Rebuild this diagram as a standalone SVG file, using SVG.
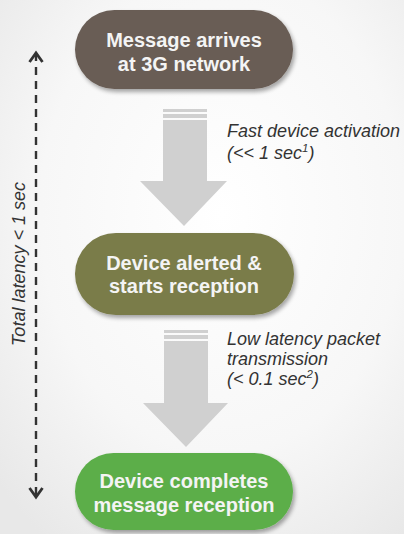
<svg xmlns="http://www.w3.org/2000/svg" width="404" height="534" viewBox="0 0 404 534">
<defs>
<radialGradient id="bg" cx="0.55" cy="0.4" r="0.75">
<stop offset="0" stop-color="#ffffff"/>
<stop offset="0.6" stop-color="#f7f7f7"/>
<stop offset="1" stop-color="#e8e8e8"/>
</radialGradient>
<filter id="sh" x="-10%" y="-10%" width="125%" height="135%">
<feGaussianBlur in="SourceAlpha" stdDeviation="2"/>
<feOffset dx="2" dy="3" result="b"/>
<feComponentTransfer><feFuncA type="linear" slope="0.35"/></feComponentTransfer>
<feMerge><feMergeNode/><feMergeNode in="SourceGraphic"/></feMerge>
</filter>
<marker id="chev" viewBox="0 0 14 16" refX="11" refY="8" markerWidth="14" markerHeight="16" markerUnits="userSpaceOnUse" orient="auto-start-reverse">
<path d="M2,1.5 L11,8 L2,14.5" fill="none" stroke="#333" stroke-width="2.8"/>
</marker>
</defs>
<style>
.node text{font-family:"Liberation Sans",Arial,sans-serif;font-weight:bold;font-size:20px;fill:#f4f4f4;text-anchor:middle}
.lbl{font-family:"Liberation Sans",Arial,sans-serif;font-style:italic;font-size:18px;fill:#333}
.big{fill:#d0d0d0}
.stripe{fill:#d0d0d0}
</style>
<rect width="404" height="534" fill="url(#bg)"/>

<g id="connectors">
<g id="arrow1">
<rect class="stripe" x="163" y="109" width="44" height="3"/>
<rect class="stripe" x="163" y="114" width="44" height="4"/>
<path class="big" d="M163,120 H207 V181 H227 L184,226 L140,181 H163 Z"/>
</g>
<g id="arrow2">
<rect class="stripe" x="164" y="330" width="44" height="3"/>
<rect class="stripe" x="164" y="335" width="44" height="4"/>
<path class="big" d="M164,341 H208 V403 H228 L186,447 L143,403 H164 Z"/>
</g>
<g id="latency">
<line x1="36" y1="53" x2="36" y2="497" stroke="#333" stroke-width="2.4" stroke-dasharray="8 6" marker-start="url(#chev)" marker-end="url(#chev)"/>
</g>
</g>

<text class="lbl" x="227" y="137">Fast device activation</text>
<text class="lbl" x="227" y="159">(&lt;&lt; 1 sec<tspan font-size="11.5" dy="-7">1</tspan><tspan dy="7">)</tspan></text>
<text class="lbl" x="227" y="345">Low latency packet</text>
<text class="lbl" x="227" y="365">transmission</text>
<text class="lbl" x="227" y="385">(&lt; 0.1 sec<tspan font-size="11.5" dy="-7">2</tspan><tspan dy="7">)</tspan></text>
<text class="lbl" transform="translate(25,264) rotate(-90)" text-anchor="middle" font-size="18.5" fill="#444">Total latency &lt; 1 sec</text>

<g id="node1" class="node">
<rect x="75" y="10" width="218" height="79" rx="39.5" fill="#695d55" filter="url(#sh)"/>
<text x="184" y="47">Message arrives</text>
<text x="184" y="71">at 3G network</text>
</g>
<g id="node2" class="node">
<rect x="75" y="233" width="219" height="82" rx="41" fill="#7a7b4a" filter="url(#sh)"/>
<text x="184" y="270">Device alerted &amp;</text>
<text x="184" y="293">starts reception</text>
</g>
<g id="node3" class="node">
<rect x="75" y="453" width="218" height="77" rx="38.5" fill="#5cae4a" filter="url(#sh)"/>
<text x="184" y="488">Device completes</text>
<text x="184" y="512">message reception</text>
</g>
</svg>
